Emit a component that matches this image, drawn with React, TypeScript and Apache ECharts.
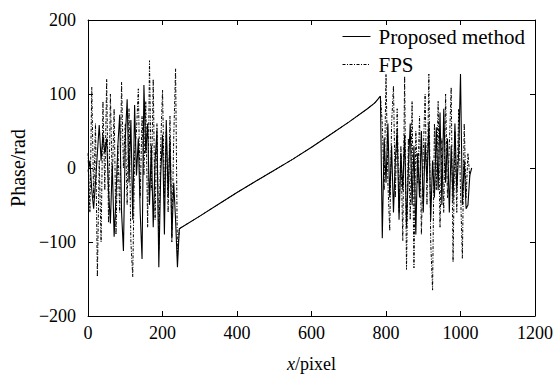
import React, { useEffect, useRef } from "react";
import * as echarts from "echarts";

// x sampling of the noisy segments (pixel units)
const leftStart = 0;
const rightStart = 790;
const sampleStep = 5;

// Proposed method, left noisy part (x = 0..240)
const proposedLeft = [-5, 10, -30, -55, -20, 20, 58, 10, 45, 20, 40, -30, -75, 5, -93, -40, 30, 72, -60, -112, 40, 93, -20, 65, -70, 85, -10, 40, -60, -123, 112, 20, 60, -50, 30, -80, 10, 50, -134, -10, 45, -90, 65, -40, 40, -95, -20, -70, -134];
// Proposed method, right noisy part (x = 790..1030)
const proposedRight = [-95, 40, -20, 60, -40, 30, -60, 10, 50, -70, 20, -30, 45, -80, 0, 60, -50, 30, -90, 20, -40, 50, -60, 35, -20, 60, -70, 10, -40, 55, -30, 75, -50, 80, -20, 40, -60, 30, -45, 60, -30, 20, 127, -50, 10, -55, -50, -10, 0];

// FPS, left noisy part (x = 0..240)
const fpsLeft = [20, -60, 109, -40, 60, -147, 10, -100, 90, -30, 120, -74, 100, -20, 80, -90, 30, -60, 116, 0, 60, -50, 80, -100, -147, 20, 50, 107, -40, 70, -10, 90, -80, 145, -30, 120, -70, 60, -110, 30, 105, -40, 50, -60, 70, -100, 40, 134, -120];
// FPS, right noisy part (x = 790..1025)
const fpsRight = [60, -30, 127, -20, -85, 60, 111, -40, 80, -60, 30, -98, 124, -137, 40, -70, 90, -135, 50, -20, 70, -90, 20, 100, -50, 127, -100, -165, 60, -30, 90, -80, 40, -60, 100, -40, 30, 109, -127, 50, -60, 80, -30, -122, 60, -40, 20, -13];

// Smooth unwrapped part shared by both methods
const curveX = [245, 300, 350, 400, 450, 500, 550, 600, 650, 700, 750, 770, 785];
const curveY = [-82, -65, -49, -33, -18, -3, 12, 28, 45, 62, 80, 88, 97];

const seriesNames = ["Proposed method", "FPS"];
const yAxisTitle = "Phase/rad";

function segment(start: number, vals: number[]) {
  return vals.map((v, i) => [start + i * sampleStep, v]);
}
function build(left: number[], right: number[]) {
  return [
    ...segment(leftStart, left),
    ...curveX.map((x, i) => [x, curveY[i]]),
    ...segment(rightStart, right),
  ];
}

const FONT = "'Liberation Serif', 'Times New Roman', serif";

export default function App() {
  const ref = useRef<HTMLDivElement>(null);
  useEffect(() => {
    if (!ref.current) return;
    const chart = echarts.init(ref.current, undefined, { renderer: "svg" });
    const axisCommon = {
      axisLine: { show: true, onZero: false, lineStyle: { color: "#000", width: 1 } },
      axisTick: { show: true, inside: true, length: 5, lineStyle: { color: "#000" } },
      splitLine: { show: false },
    };
    const fmt = (v: number) => String(v).replace("-", "\u2212");
    chart.setOption({
      animation: false,
      backgroundColor: "#fff",
      textStyle: { fontFamily: FONT, color: "#000" },
      grid: { left: 86, right: 25, top: 20, bottom: 59, containLabel: false },
      legend: {
        orient: "vertical",
        left: 337,
        top: 21,
        itemWidth: 28,
        itemHeight: 10,
        itemGap: 7,
        data: seriesNames,
        itemStyle: { color: "transparent", borderWidth: 0, opacity: 0 },
        lineStyle: { width: 1 },
        textStyle: { fontFamily: FONT, fontSize: 21, color: "#000", padding: [0, 0, 0, 3] },
      },
      xAxis: [
        {
          type: "value",
          position: "bottom",
          min: 0,
          max: 1200,
          interval: 200,
          ...axisCommon,
          axisLabel: { fontFamily: FONT, fontSize: 18, color: "#000", margin: 8, formatter: fmt },
          name: "{i|x}/pixel",
          nameLocation: "middle",
          nameGap: 39,
          nameTextStyle: {
            fontFamily: FONT,
            fontSize: 18,
            color: "#000",
            rich: { i: { fontStyle: "italic", fontFamily: FONT, fontSize: 18, color: "#000" } },
          },
        },
        {
          type: "value",
          position: "top",
          min: 0,
          max: 1200,
          interval: 200,
          ...axisCommon,
          axisLabel: { show: false },
        },
      ],
      yAxis: [
        {
          type: "value",
          position: "left",
          min: -200,
          max: 200,
          interval: 100,
          ...axisCommon,
          axisLabel: { fontFamily: FONT, fontSize: 18, color: "#000", margin: 12, formatter: fmt },
          name: yAxisTitle,
          nameLocation: "middle",
          nameGap: 58,
          nameTextStyle: { fontFamily: FONT, fontSize: 20, color: "#000" },
        },
        {
          type: "value",
          position: "right",
          min: -200,
          max: 200,
          interval: 100,
          ...axisCommon,
          axisLabel: { show: false },
        },
      ],
      series: [
        {
          name: seriesNames[1],
          type: "line",
          data: build(fpsLeft, fpsRight),
          showSymbol: false,
          symbol: "none",
          lineStyle: { color: "#000", width: 1, type: [3, 1.5, 1, 1.5] },
          itemStyle: { color: "#000" },
        },
        {
          name: seriesNames[0],
          type: "line",
          data: build(proposedLeft, proposedRight),
          showSymbol: false,
          symbol: "none",
          lineStyle: { color: "#000", width: 1.1 },
          itemStyle: { color: "#000" },
        },
      ],
    });
    return () => chart.dispose();
  }, []);
  return (
    <div
      ref={ref}
      style={{ position: "absolute", left: 0, top: 0, width: 560, height: 378, background: "#fff" }}
    />
  );
}
